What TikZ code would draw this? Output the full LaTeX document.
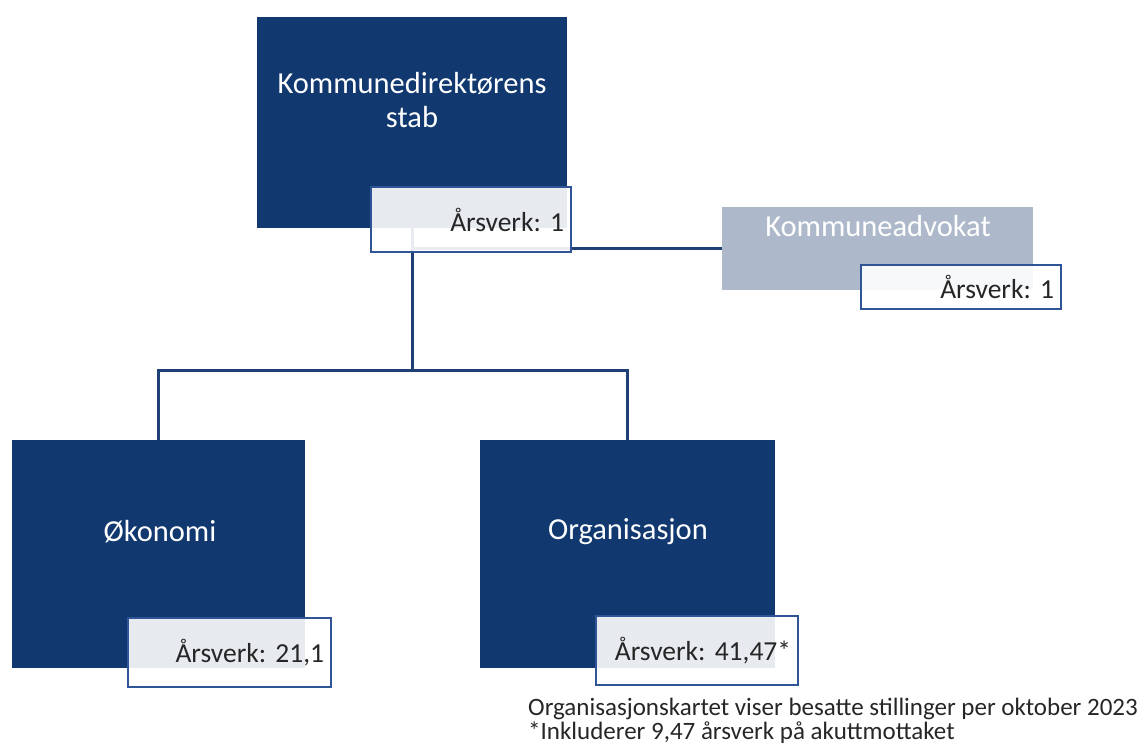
\documentclass[tikz,border=0pt]{standalone}
\usepackage{fontspec}
\setmainfont{Carlito}
\frenchspacing
\definecolor{dkblue}{RGB}{17,57,111}
\definecolor{lnblue}{RGB}{30,64,118}
\definecolor{bdblue}{RGB}{47,85,151}
\definecolor{advgray}{RGB}{173,185,202}
\newcommand{\bigfs}{\fontsize{30.5}{34}\selectfont}
\newcommand{\labfs}{\fontsize{27.5}{30}\selectfont}
\newcommand{\smallfs}{\fontsize{25}{22}\selectfont}
\begin{document}
\begin{tikzpicture}[x=1pt,y=-1pt,
  unitbox/.style={fill=dkblue, draw=none, anchor=north west, inner sep=0pt},
  advbox/.style={fill=advgray, draw=none, anchor=north west, inner sep=0pt},
  boxtext/.style={text=white, font=\bigfs, align=center, inner sep=0pt},
  lab/.style={draw=bdblue, line width=2pt, fill=white, fill opacity=0.9, text opacity=1,
     anchor=north west, inner xsep=7pt, inner ysep=0pt, align=right, font=\labfs, text=black!85},
  conn/.style={draw=lnblue, line width=2.6pt},
  notetext/.style={font=\smallfs, inner sep=0pt, text=black!85, align=left}]
\useasboundingbox (0,0) rectangle (1138,749);

% boxes
\node[unitbox, minimum width=310pt, minimum height=211pt] (dir) at (257,17) {};
\node[advbox, minimum width=311pt, minimum height=83pt] (adv) at (722,207) {};
\node[unitbox, minimum width=293pt, minimum height=228pt] (oko) at (12,440) {};
\node[unitbox, minimum width=295pt, minimum height=228pt] (org) at (480,440) {};

% connectors (behind labels)
\path (dir.south) ++(0,20) coordinate (jn);
\path (dir.south) ++(0,142) coordinate (bus);
\draw[conn] (dir.south) -- (bus);
\draw[conn] (oko.north) |- (bus) -| (org.north);
\draw[conn] (jn |- adv.west) -- (adv.west);

% texts in boxes
\node[boxtext] (dirt) at (412,100) {Kommunedirektørens\\stab};
\node[text=white, font=\bigfs, inner sep=0pt] (advt) at (878,226) {Kommuneadvokat};
\node[boxtext] (okot) at (160,532) {Økonomi};
\node[boxtext] (orgt) at (628,532) {Organisasjon};

% labels
\node[lab, text width=186pt, minimum height=65pt] (l1) at (370,186) {Årsverk: 1};
\node[lab, text width=186pt, minimum height=44pt] (l2) at (860,264) {Årsverk: 1};
\node[lab, text width=189pt, minimum height=69pt] (l3) at (127,617) {Årsverk: 21,1};
\node[lab, text width=188pt, minimum height=69pt] (l4) at (595,615) {Årsverk: 41,47*};

% footnote
\node[notetext, anchor=base west] (note) at (528,739)
  {Organisasjonskartet viser besatte stillinger per oktober 2023\\*Inkluderer 9,47 årsverk på akuttmottaket};
\end{tikzpicture}
\end{document}
